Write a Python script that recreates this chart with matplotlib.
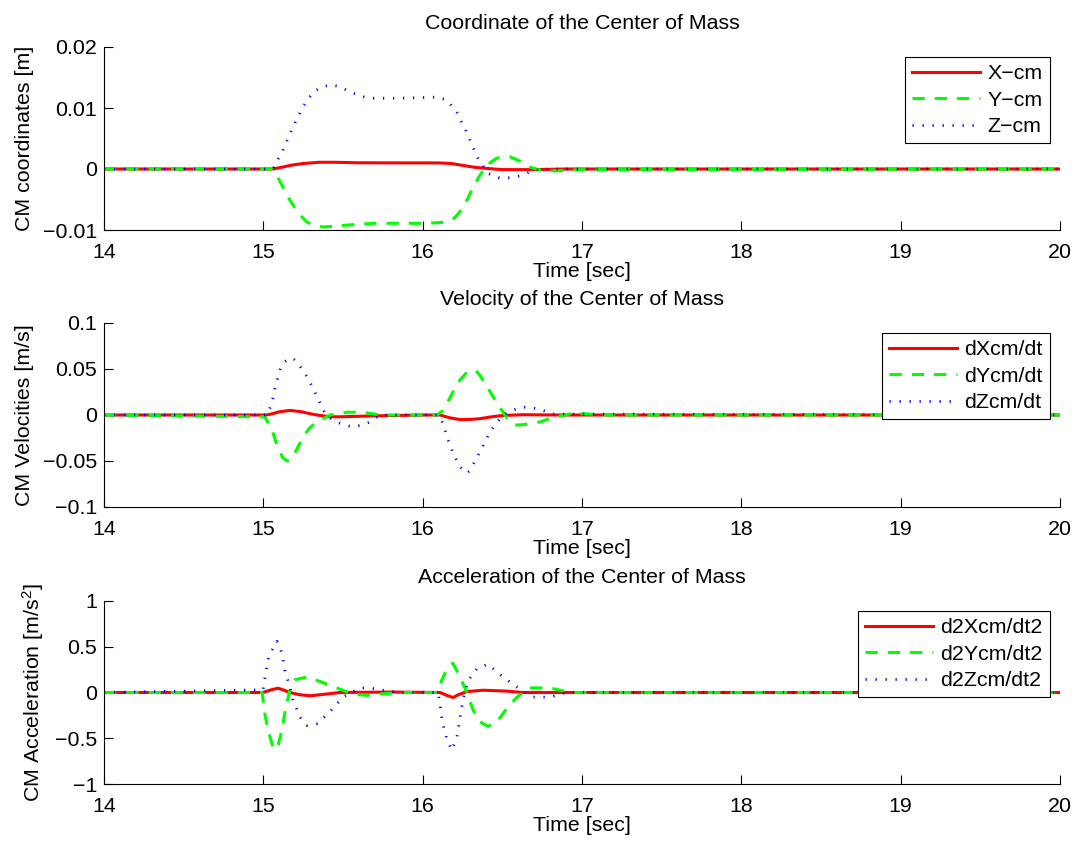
import matplotlib
matplotlib.use("Agg")
import matplotlib.pyplot as plt
from matplotlib.ticker import FuncFormatter, FixedLocator

plt.rcParams['font.family'] = ['Liberation Sans', 'DejaVu Sans']
plt.rcParams['mathtext.fontset'] = 'custom'
plt.rcParams['mathtext.rm'] = 'Liberation Sans'
plt.rcParams['mathtext.it'] = 'Liberation Sans:italic'

FS = 15.4

# ---- Center of mass position [m] ----
pos_x_t = [14, 15.06, 15.12, 15.17, 15.25, 15.35, 15.45, 15.6, 15.9, 16.1, 16.18, 16.25, 16.32,
           16.4, 16.5, 16.7, 16.9, 20]
pos_x = [0, 0, 0.0003, 0.0006, 0.0009, 0.0011, 0.0011, 0.00102, 0.001, 0.001, 0.0009, 0.0006, 0.0003,
         0.0001, -0.0001, -0.0001, 0, 0]

pos_y_t = [14, 15.05, 15.10, 15.155, 15.218, 15.274, 15.32, 15.374, 15.45, 15.525, 15.688, 16.0,
           16.1, 16.153, 16.2, 16.234, 16.28, 16.316, 16.36, 16.404, 16.467, 16.548, 16.61, 16.674,
           16.74, 16.818, 17.0, 20]
pos_y = [0, 0, -0.0018, -0.0046, -0.0072, -0.0087, -0.0093, -0.0095, -0.0094, -0.0092, -0.0089, -0.0089,
         -0.0088, -0.0087, -0.0080, -0.0070, -0.0050, -0.0030, -0.0010, 0.0007, 0.0018, 0.0020, 0.0013, 0.0003,
         -0.0002, -0.0003, -0.0001, 0]

pos_z_t = [14, 15.06, 15.123, 15.186, 15.249, 15.312, 15.37, 15.431, 15.49, 15.544, 15.657, 15.839,
           16.0, 16.09, 16.153, 16.216, 16.278, 16.341, 16.41, 16.485, 16.56, 16.63, 16.693, 16.8, 20]
pos_z = [0, 0, 0.0031, 0.0069, 0.0102, 0.0126, 0.0135, 0.0138, 0.0134, 0.0126, 0.0116, 0.0116,
         0.0117, 0.0118, 0.0113, 0.0092, 0.0059, 0.0020, -0.0007, -0.0015, -0.0014, -0.0010, -0.0002, 0, 0]

# ---- Center of mass velocity [m/s] ----
vel_x_t = [14, 15.02, 15.06, 15.10, 15.167, 15.24, 15.29, 15.337, 15.40, 15.462, 15.688, 16.0,
           16.109, 16.17, 16.234, 16.30, 16.36, 16.43, 16.504, 16.63, 16.843, 20]
vel_x = [0, 0, 0.0015, 0.0035, 0.005, 0.0035, 0.0015, 0.000, -0.0015, -0.002, -0.001, 0,
         0, -0.003, -0.005, -0.0048, -0.004, -0.002, -0.0005, 0.0003, 0, 0]

vel_y_t = [14, 15.01, 15.054, 15.086, 15.12, 15.149, 15.175, 15.199, 15.249, 15.29, 15.337, 15.418,
           15.525, 15.626, 15.732, 16.09, 16.128, 16.16, 16.19, 16.234, 16.28, 16.31, 16.34, 16.36,
           16.41, 16.473, 16.529, 16.592, 16.655, 16.736, 16.812, 16.944, 17.157, 20]
vel_y = [0, -0.002, -0.016, -0.033, -0.046, -0.050, -0.048, -0.041, -0.024, -0.014, -0.0076, 0,
         0.003, 0.003, 0, 0, 0.005, 0.015, 0.025, 0.038, 0.047, 0.049, 0.047, 0.043,
         0.029, 0.011, -0.003, -0.011, -0.010, -0.0076, -0.003, 0.002, 0, 0]

vel_z_t = [14, 15.023, 15.054, 15.073, 15.105, 15.135, 15.167, 15.19, 15.218, 15.28, 15.337, 15.387,
           15.43, 15.481, 15.557, 15.62, 15.669, 15.732, 16.096, 16.128, 16.159, 16.19, 16.234, 16.258,
           16.278, 16.30, 16.316, 16.372, 16.423, 16.504, 16.561, 16.624, 16.693, 16.755, 16.812, 20]
vel_z = [0, 0, 0.013, 0.030, 0.049, 0.058, 0.062, 0.061, 0.056, 0.040, 0.020, 0.002,
         -0.005, -0.009, -0.013, -0.011, -0.0076, 0, 0, -0.009, -0.027, -0.041, -0.056, -0.061,
         -0.063, -0.060, -0.054, -0.036, -0.018, 0, 0.005, 0.0087, 0.0076, 0.005, 0.001, 0]

# ---- Center of mass acceleration [m/s^2] ----
acc_x_t = [14, 14.998, 15.05, 15.092, 15.13, 15.167, 15.23, 15.293, 15.38, 15.481, 15.8, 16.109,
           16.15, 16.19, 16.23, 16.278, 16.379, 16.529, 16.63, 16.8, 20]
acc_x = [0, 0, 0.03, 0.047, 0.025, 0.0, -0.025, -0.036, -0.02, 0.0, 0.005, 0,
         -0.03, -0.055, -0.02, 0.01, 0.025, 0.015, 0, 0, 0]

acc_y_t = [14, 14.992, 15.01, 15.029, 15.061, 15.086, 15.117, 15.136, 15.167, 15.199, 15.274, 15.356,
           15.462, 15.563, 15.651, 15.776, 15.9, 16.09, 16.121, 16.159, 16.19, 16.234, 16.278, 16.316,
           16.36, 16.41, 16.467, 16.529, 16.592, 16.674, 16.799, 16.925, 17.0, 20]
acc_y = [0, 0, -0.24, -0.41, -0.60, -0.62, -0.41, -0.21, 0.03, 0.14, 0.17, 0.12,
         0.05, -0.02, -0.03, -0.01, 0, 0, 0.14, 0.28, 0.32, 0.17, 0.0, -0.19,
         -0.32, -0.37, -0.32, -0.17, -0.05, 0.05, 0.05, 0, 0, 0]

acc_z_t = [14, 14.998, 15.01, 15.029, 15.054, 15.086, 15.117, 15.136, 15.167, 15.186, 15.23, 15.274,
           15.337, 15.418, 15.5, 15.607, 15.669, 15.732, 15.85, 16.096, 16.109, 16.121, 16.153, 16.184,
           16.216, 16.234, 16.253, 16.285, 16.341, 16.41, 16.504, 16.592, 16.693, 16.799, 16.9, 20]
acc_z = [0, 0.03, 0.16, 0.36, 0.46, 0.56, 0.43, 0.23, 0.06, -0.08, -0.27, -0.36,
         -0.34, -0.21, -0.05, 0.05, 0.05, 0.03, 0, 0, -0.12, -0.30, -0.52, -0.63,
         -0.48, -0.28, -0.08, 0.13, 0.26, 0.31, 0.17, 0.06, -0.05, -0.05, 0, 0]

x_ticks = [14, 15, 16, 17, 18, 19, 20]

panels = [
    dict(title='Coordinate of the Center of Mass', ylabel='CM coordinates [m]',
         ylim=(-0.01, 0.02), yticks=[-0.01, 0, 0.01, 0.02],
         series=[(pos_x_t, pos_x, 'X\u2212cm'), (pos_y_t, pos_y, 'Y\u2212cm'), (pos_z_t, pos_z, 'Z\u2212cm')]),
    dict(title='Velocity of the Center of Mass', ylabel='CM Velocities [m/s]',
         ylim=(-0.1, 0.1), yticks=[-0.1, -0.05, 0, 0.05, 0.1],
         series=[(vel_x_t, vel_x, 'dXcm/dt'), (vel_y_t, vel_y, 'dYcm/dt'), (vel_z_t, vel_z, 'dZcm/dt')]),
    dict(title='Acceleration of the Center of Mass', ylabel='CM Acceleration [m/s$^{2}$]',
         ylim=(-1, 1), yticks=[-1, -0.5, 0, 0.5, 1],
         series=[(acc_x_t, acc_x, 'd2Xcm/dt2'), (acc_y_t, acc_y, 'd2Ycm/dt2'), (acc_z_t, acc_z, 'd2Zcm/dt2')]),
]

styles = [
    dict(color='#ff0000', lw=2.2, linestyle='-'),
    dict(color='#00ff00', lw=2.2, dashes=(4.0, 3.3)),
    dict(color='#0000ff', lw=2.0, dashes=(0.45, 3.15), dash_capstyle='butt'),
]

fig = plt.figure(figsize=(10.75, 8.41), dpi=100)
left, width = 104 / 1075, 956 / 1075
boxes = [(47, 230), (323, 507), (601, 784)]


def fmt(v, pos):
    s = '%g' % round(v, 6)
    if s == '-0':
        s = '0'
    return s.replace('-', '\u2212')


for (top, bottom), p in zip(boxes, panels):
    ax = fig.add_axes([left, 1 - bottom / 841, width, (bottom - top) / 841])
    for (t, v, name), st in zip(p['series'], styles):
        ax.plot(t, v, label=name, **st)
    ax.set_xlim(14, 20)
    ax.set_ylim(*p['ylim'])
    ax.xaxis.set_major_locator(FixedLocator(x_ticks))
    ax.yaxis.set_major_locator(FixedLocator(p['yticks']))
    ax.xaxis.set_major_formatter(FuncFormatter(fmt))
    ax.yaxis.set_major_formatter(FuncFormatter(fmt))
    for s in ('top', 'right'):
        ax.spines[s].set_visible(False)
    for s in ('left', 'bottom'):
        ax.spines[s].set_linewidth(0.8)
    ax.tick_params(direction='in', length=6.5, width=0.8, labelsize=FS, pad=5)
    ax.tick_params(axis='x', pad=9.5)
    ax.set_title(p['title'], fontsize=FS, pad=13)
    ax.set_xlabel('Time [sec]', fontsize=FS, labelpad=0)
    ax.set_ylabel(p['ylabel'], fontsize=FS, labelpad=6)
    leg = ax.legend(loc='upper right', fontsize=FS, handlelength=3.2, handletextpad=0.33,
                    borderpad=0.33, labelspacing=0.35, borderaxespad=0.48, fancybox=False,
                    framealpha=1, edgecolor='black')
    leg.get_frame().set_linewidth(0.8)

fig.savefig('out.png', dpi=100)
